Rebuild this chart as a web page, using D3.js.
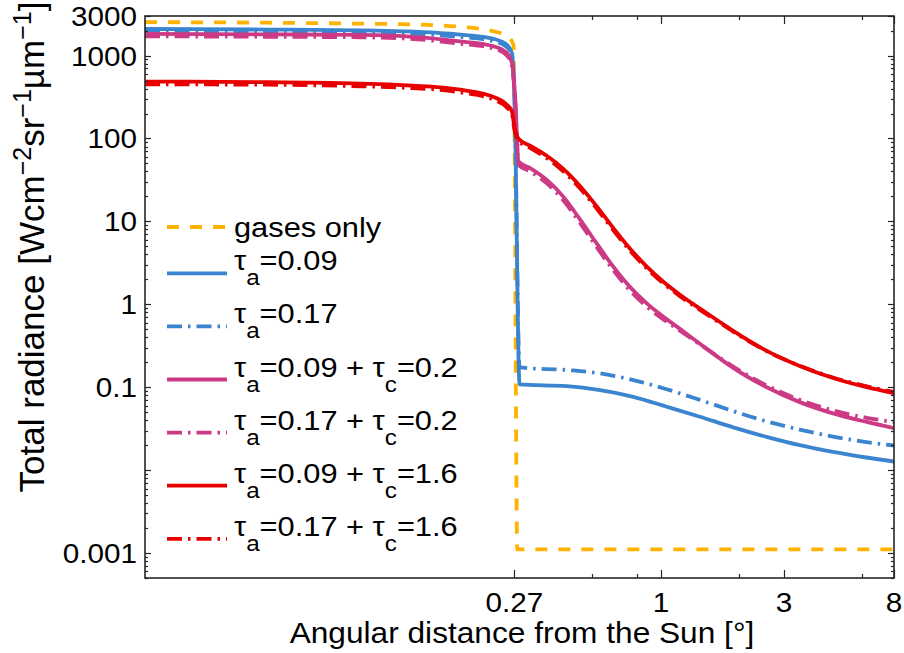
<!DOCTYPE html>
<html>
<head>
<meta charset="utf-8">
<script src="https://cdn.jsdelivr.net/npm/d3@7/dist/d3.min.js"></script>
<style>
  body { margin: 0; background: #fff; }
  svg text { font-family: "Liberation Sans", Arial, Helvetica, sans-serif; fill: #000; }
</style>
</head>
<body>
<svg id="chart" width="904" height="653"></svg>
<script>
// Total radiance vs. angular distance from the Sun, [angle in degrees, W cm^-2 sr^-1 um^-1]
const gasesOnly = [[0.01,2530],[0.03,2490],[0.0685,2427],[0.1,2390],[0.1668,2220],[0.2248,1960],[0.2525,1720],[0.2644,1484],[0.2683,1300],[0.2773,0.00111],[8,0.00111]];

const tauA09 = [[0.01,2090],[0.03,2060],[0.0685,2015],[0.1,1960],[0.1668,1787],[0.2248,1587],[0.2525,1355],[0.2644,1075],[0.2705,300],[0.2831,0.108],[0.4316,0.103],[0.5808,0.0922],[0.7812,0.0766],[1.052,0.0582],[1.4155,0.0440],[1.905,0.0328],[2.564,0.0252],[3.449,0.0200],[4.641,0.0166],[6.248,0.0142],[8,0.0127]];

const tauA17 = [[0.01,1960],[0.03,1935],[0.0685,1890],[0.1,1840],[0.1668,1680],[0.2248,1490],[0.2525,1270],[0.2644,1010],[0.2705,300],[0.2831,0.173],[0.4316,0.161],[0.5808,0.147],[0.7812,0.122],[1.052,0.0946],[1.4155,0.0703],[1.905,0.0515],[2.564,0.0388],[3.449,0.0308],[4.641,0.0254],[6.248,0.0218],[8,0.0198]];

const tauA09C02 = [[0.01,1825],[0.03,1800],[0.0685,1775],[0.1,1720],[0.1668,1484],[0.2248,1291],[0.2525,1075],[0.2644,814],[0.2683,561],[0.2724,293],[0.2805,52.7],[0.311,43.9],[0.362,31.4],[0.418,19.9],[0.486,10.5],[0.566,5.31],[0.652,2.86],[0.759,1.61],[0.883,1.018],[1.018,0.713],[1.184,0.505],[1.416,0.334],[1.691,0.222],[1.905,0.171],[2.57,0.0998],[3.45,0.0661],[4.64,0.0484],[6.27,0.0381],[8,0.0321]];

const tauA17C02 = [[0.01,1705],[0.03,1685],[0.0685,1660],[0.1,1610],[0.1668,1390],[0.2248,1210],[0.2525,1005],[0.2644,760],[0.2683,525],[0.2724,275],[0.2805,48],[0.311,40],[0.362,28.5],[0.418,18.0],[0.486,9.5],[0.566,4.8],[0.652,2.6],[0.759,1.46],[0.883,0.93],[1.018,0.66],[1.184,0.48],[1.416,0.328],[1.691,0.226],[1.905,0.177],[2.57,0.105],[3.45,0.0705],[4.64,0.0525],[6.27,0.0428],[8,0.038]];

const tauA09C16 = [[0.01,485],[0.03,478],[0.0685,458],[0.1,440],[0.1668,387],[0.2248,316],[0.2525,255],[0.2644,212],[0.27,140],[0.2805,99],[0.311,81.8],[0.362,61.4],[0.418,43.0],[0.486,26.6],[0.566,14.93],[0.652,8.39],[0.759,4.68],[0.883,2.83],[1.018,1.884],[1.184,1.306],[1.416,0.887],[1.691,0.611],[1.905,0.478],[2.57,0.274],[3.45,0.180],[4.64,0.129],[6.27,0.100],[8,0.0847]];

const tauA17C16 = [[0.01,450],[0.03,445],[0.0685,426],[0.1,410],[0.1668,360],[0.2248,294],[0.2525,237],[0.2644,197],[0.27,130],[0.2805,94],[0.311,77],[0.362,57.5],[0.418,40.2],[0.486,24.9],[0.566,14.0],[0.652,7.9],[0.759,4.42],[0.883,2.69],[1.018,1.8],[1.184,1.255],[1.416,0.857],[1.691,0.595],[1.905,0.468],[2.57,0.272],[3.45,0.181],[4.64,0.131],[6.27,0.1025],[8,0.0875]];

const seriesLabels = ["gases only", "τ_a=0.09", "τ_a=0.17", "τ_a=0.09 + τ_c=0.2", "τ_a=0.17 + τ_c=0.2", "τ_a=0.09 + τ_c=1.6", "τ_a=0.17 + τ_c=1.6"];
const xTicks = [0.27, 1, 3, 8];
const xMinorTicks = [0.54, 0.81, 2, 6];
const yTicks = [3000, 1000, 100, 10, 1, 0.1, 0.001];
const yTickLabels = ["3000", "1000", "100", "10", "1", "0.1", "0.001"];

// Styling per series
const seriesData = [gasesOnly, tauA09, tauA17, tauA09C02, tauA17C02, tauA09C16, tauA17C16];
const colors = ["#FFB300", "#3B84CF", "#3B84CF", "#CC3A85", "#CC3A85", "#E80000", "#E80000"];
const DASH = "12,11", DASHDOT = "15,6,2.5,6";
const dashes = [DASH, null, DASHDOT, null, DASHDOT, null, DASHDOT];
const lineWidth = 3.8;

const plot = { left: 145, right: 894, top: 16, bottom: 578 };

const svg = d3.select("#chart");
const x = d3.scaleLog().domain([0.01, 8]).range([plot.left, plot.right]);
const y = d3.scaleLog().domain([0.0005, 3000]).range([plot.bottom, plot.top]);

svg.append("defs").append("clipPath").attr("id", "plotClip")
  .append("rect")
  .attr("x", plot.left).attr("y", plot.top)
  .attr("width", plot.right - plot.left).attr("height", plot.bottom - plot.top);

// Curves
const line = d3.line().x(d => x(d[0])).y(d => y(d[1])).curve(d3.curveMonotoneX);
const curves = svg.append("g").attr("clip-path", "url(#plotClip)");
seriesData.forEach((data, i) => {
  curves.append("path")
    .attr("d", line(data))
    .attr("fill", "none")
    .attr("stroke", colors[i])
    .attr("stroke-width", lineWidth)
    .attr("stroke-linejoin", "round")
    .attr("stroke-dasharray", dashes[i]);
});

// Axes: box with inward ticks on all four sides
const axisColor = "#262626";
const axes = svg.append("g");
const majorX = 8, minorX = 4, majorY = 6, minorY = 3;

// y minor ticks: 2..9 in each decade
const yMinor = [];
for (let e = -4; e <= 3; e++) {
  for (let m = 2; m <= 9; m++) {
    const v = m * Math.pow(10, e);
    if (v >= 0.0005 && v <= 3000 && !yTicks.includes(v)) yMinor.push(v);
  }
}
const yMajorAll = [3000, 1000, 100, 10, 1, 0.1, 0.01, 0.001];

function hTick(v, len) {
  const yy = Math.round(y(v)) + 0.5;
  axes.append("line").attr("x1", plot.left).attr("x2", plot.left + len).attr("y1", yy).attr("y2", yy);
  axes.append("line").attr("x1", plot.right).attr("x2", plot.right - len).attr("y1", yy).attr("y2", yy);
}
function vTick(v, len) {
  const xx = Math.round(x(v)) + 0.5;
  axes.append("line").attr("y1", plot.bottom).attr("y2", plot.bottom - len).attr("x1", xx).attr("x2", xx);
  axes.append("line").attr("y1", plot.top).attr("y2", plot.top + len).attr("x1", xx).attr("x2", xx);
}
yMinor.forEach(v => hTick(v, minorY));
yMajorAll.forEach(v => hTick(v, majorY));
xMinorTicks.forEach(v => vTick(v, minorX));
xTicks.forEach(v => vTick(v, majorX));
axes.selectAll("line").attr("stroke", axisColor).attr("stroke-width", 1.2);

axes.append("rect")
  .attr("x", plot.left).attr("y", plot.top)
  .attr("width", plot.right - plot.left).attr("height", plot.bottom - plot.top)
  .attr("fill", "none").attr("stroke", axisColor).attr("stroke-width", 1.6);

// Text placed at (tx, ty) with a slight horizontal widening of the glyphs
function wideText(parent, tx, ty, sx, size, anchor) {
  return parent.append("g")
    .attr("transform", `translate(${tx},${ty}) scale(${sx},1)`)
    .append("text")
    .attr("x", 0).attr("y", 0)
    .attr("font-size", size)
    .attr("text-anchor", anchor || "start");
}

// Tick labels
const tickFont = 28, tickStretch = 1.06;
const tickLayer = svg.append("g");
xTicks.forEach(d => {
  wideText(tickLayer, x(d), 612, tickStretch, tickFont, "middle").text(String(d));
});
yTicks.forEach((d, i) => {
  wideText(tickLayer, 137, y(d) + 10, tickStretch, tickFont, "end").text(yTickLabels[i]);
});

// Axis titles
wideText(svg, 522, 642.5, 1.055, 30, "middle").text("Angular distance from the Sun [°]");

const yTitle = svg.append("text")
  .attr("transform", "translate(44,247) rotate(-90)")
  .attr("text-anchor", "middle").attr("font-size", 35);
const supSize = 25, supRise = 13;
yTitle.append("tspan").text("Total radiance [Wcm");
yTitle.append("tspan").attr("font-size", supSize).attr("dy", -supRise).text("−2");
yTitle.append("tspan").attr("dy", supRise).text("sr");
yTitle.append("tspan").attr("font-size", supSize).attr("dy", -supRise).text("−1");
yTitle.append("tspan").attr("dy", supRise).text("µm");
yTitle.append("tspan").attr("font-size", supSize).attr("dy", -supRise).text("−1");
yTitle.append("tspan").attr("dy", supRise).text("]");

// Legend
const legend = svg.append("g");
const legendFont = 28, subFont = 22, subShift = 15, legendStretch = 1.1;
seriesLabels.forEach((label, i) => {
  const ly = i === 0 ? 227 : 273.3 + (i - 1) * 53.1;
  legend.append("line")
    .attr("x1", 167).attr("x2", 227).attr("y1", ly).attr("y2", ly)
    .attr("stroke", colors[i]).attr("stroke-width", lineWidth)
    .attr("stroke-dasharray", dashes[i]);
  const t = wideText(legend, 234, i === 0 ? ly + 10 : ly - 3, legendStretch, legendFont);
  // "_x" marks a one-character subscript
  const parts = label.split(/(_.)/);
  let lowered = false;
  parts.forEach(p => {
    if (!p) return;
    if (p[0] === "_") {
      t.append("tspan").attr("font-size", subFont).attr("dy", subShift).text(p[1]);
      lowered = true;
    } else {
      t.append("tspan").attr("dy", lowered ? -subShift : 0).text(p);
      lowered = false;
    }
  });
});
</script>
</body>
</html>
